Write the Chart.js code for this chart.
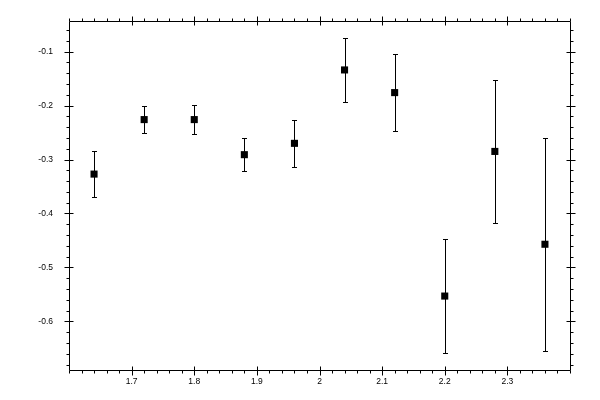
<!DOCTYPE html>
<html>
<head>
<meta charset="utf-8">
<script src="https://cdn.jsdelivr.net/npm/chart.js@4"></script>
<style>
html,body{margin:0;padding:0;background:#fff;}
canvas{display:block;}
</style>
</head>
<body>
<canvas id="c" width="600" height="400"></canvas>
<script>
// ---- data ----
const xValues = [1.64, 1.72, 1.80, 1.88, 1.96, 2.04, 2.12, 2.20, 2.28, 2.36];
const yValues = [-0.327, -0.226, -0.226, -0.291, -0.270, -0.134, -0.176, -0.553, -0.285, -0.457];
const yErrors = [0.043, 0.025, 0.027, 0.031, 0.043, 0.060, 0.072, 0.106, 0.132, 0.197];

const xTickValues = [1.7, 1.8, 1.9, 2.0, 2.1, 2.2, 2.3];
const xTickLabels = ['1.7', '1.8', '1.9', '2', '2.1', '2.2', '2.3'];
const yTickValues = [-0.6, -0.5, -0.4, -0.3, -0.2, -0.1];
const yTickLabels = ['-0.6', '-0.5', '-0.4', '-0.3', '-0.2', '-0.1'];

const xMin = 1.6, xMax = 2.4, yMin = -0.69, yMax = -0.0435;
const minorStep = 0.02;

function minorTicks(min, max) {
  const out = [];
  const a = Math.ceil(min / minorStep - 1e-9), b = Math.floor(max / minorStep + 1e-9);
  for (let i = a; i <= b; i++) out.push({ value: Math.round(i * minorStep * 1000) / 1000 });
  return out;
}
function isMajor(v, majors) { return majors.some(m => Math.abs(m - v) < 1e-6); }
function labelFor(v, majors, labels) {
  const i = majors.findIndex(m => Math.abs(m - v) < 1e-6);
  return i >= 0 ? labels[i] : '';
}

const points = xValues.map((x, i) => ({ x: x, y: yValues[i] }));

const errorBars = {
  id: 'errorBars',
  beforeDatasetsDraw(chart) {
    const ctx = chart.ctx, xs = chart.scales.x, ys = chart.scales.y;
    ctx.save();
    ctx.strokeStyle = '#000';
    ctx.lineWidth = 1;
    const cap = 2.5;
    xValues.forEach((x, i) => {
      const px = Math.round(xs.getPixelForValue(x)) + 0.5;
      const top = Math.round(ys.getPixelForValue(yValues[i] + yErrors[i])) + 0.5;
      const bot = Math.round(ys.getPixelForValue(yValues[i] - yErrors[i])) + 0.5;
      ctx.beginPath();
      ctx.moveTo(px, top); ctx.lineTo(px, bot);
      ctx.moveTo(px - cap, top); ctx.lineTo(px + cap, top);
      ctx.moveTo(px - cap, bot); ctx.lineTo(px + cap, bot);
      ctx.stroke();
    });
    ctx.restore();
  }
};

const frame = {
  id: 'frame',
  afterDraw(chart) {
    const ctx = chart.ctx, a = chart.chartArea, xs = chart.scales.x, ys = chart.scales.y;
    const L = Math.round(a.left) + 0.5, R = Math.round(a.right) + 0.5;
    const T = Math.round(a.top) + 0.5, B = Math.round(a.bottom) + 0.5;
    ctx.save();
    ctx.strokeStyle = '#000';
    ctx.lineWidth = 1;
    ctx.beginPath();
    ctx.rect(L, T, R - L, B - T);
    xs.ticks.forEach(t => {
      const p = Math.round(xs.getPixelForValue(t.value)) + 0.5;
      if (isMajor(t.value, xTickValues)) {
        ctx.moveTo(p, B + 5); ctx.lineTo(p, B - 4);
        ctx.moveTo(p, T - 5); ctx.lineTo(p, T + 4);
      } else {
        ctx.moveTo(p, B); ctx.lineTo(p, B + 3);
        ctx.moveTo(p, T); ctx.lineTo(p, T - 3);
      }
    });
    ys.ticks.forEach(t => {
      const p = Math.round(ys.getPixelForValue(t.value)) + 0.5;
      if (isMajor(t.value, yTickValues)) {
        ctx.moveTo(L - 5, p); ctx.lineTo(L + 4, p);
        ctx.moveTo(R + 5, p); ctx.lineTo(R - 4, p);
      } else {
        ctx.moveTo(L, p); ctx.lineTo(L - 3, p);
        ctx.moveTo(R, p); ctx.lineTo(R + 3, p);
      }
    });
    ctx.stroke();
    ctx.restore();
  }
};

const font = { family: 'Liberation Sans', size: 8.5 };

new Chart(document.getElementById('c'), {
  type: 'scatter',
  data: {
    datasets: [{
      data: points,
      pointStyle: 'rect',
      pointRadius: 5,
      pointHoverRadius: 5,
      pointBorderWidth: 0,
      backgroundColor: '#000',
      borderColor: '#000',
      showLine: false
    }]
  },
  options: {
    responsive: false,
    animation: false,
    devicePixelRatio: 1,
    layout: { padding: { top: 19, right: 30, left: 0, bottom: 0 } },
    plugins: { legend: { display: false }, tooltip: { enabled: false } },
    scales: {
      x: {
        type: 'linear', min: xMin, max: xMax,
        grid: { display: false, drawTicks: false },
        border: { display: false },
        afterBuildTicks: s => { s.ticks = minorTicks(xMin, xMax); },
        afterFit: s => { s.height = 30; },
        ticks: {
          autoSkip: false, maxRotation: 0, minRotation: 0, padding: 7,
          color: '#000', font: font,
          callback: v => labelFor(v, xTickValues, xTickLabels)
        }
      },
      y: {
        type: 'linear', min: yMin, max: yMax,
        grid: { display: false, drawTicks: false },
        border: { display: false },
        afterBuildTicks: s => { s.ticks = minorTicks(yMin, yMax); },
        afterFit: s => { s.width = 69; },
        ticks: {
          autoSkip: false, padding: 16,
          color: '#000', font: font,
          callback: v => labelFor(v, yTickValues, yTickLabels)
        }
      }
    }
  },
  plugins: [errorBars, frame]
});
</script>
</body>
</html>
